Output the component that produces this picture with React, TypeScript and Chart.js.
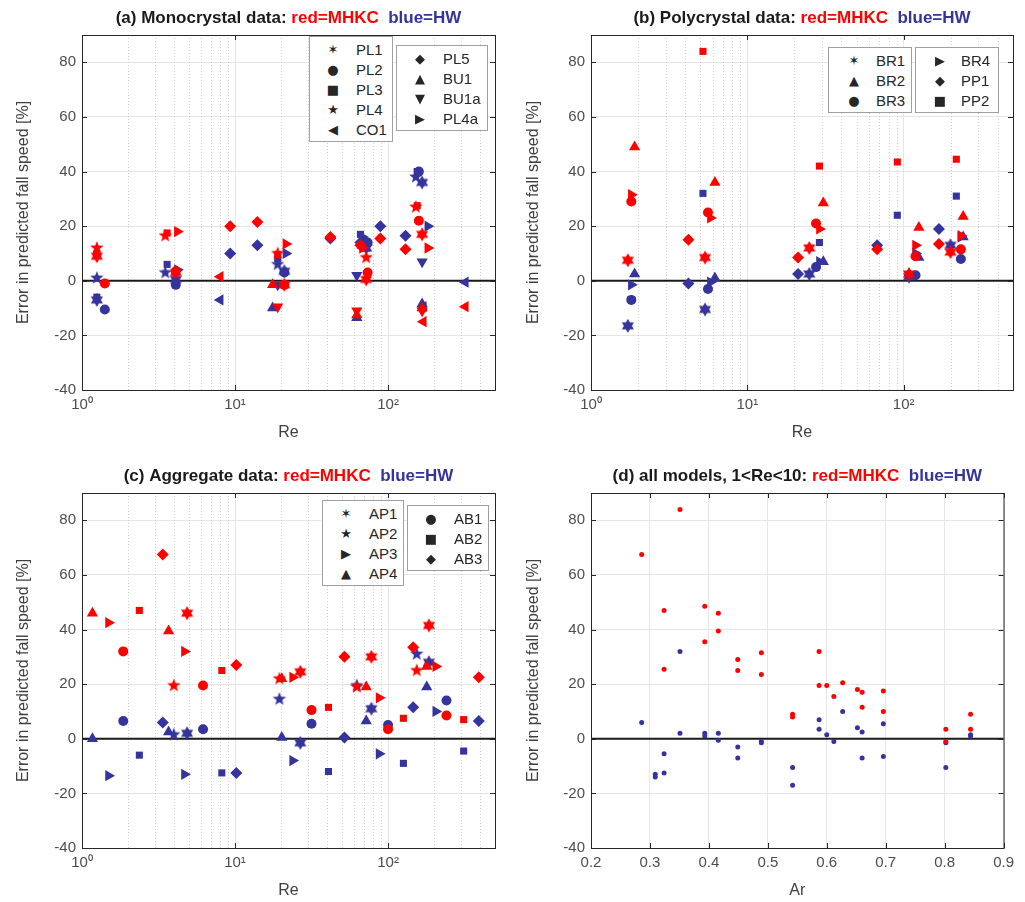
import { useEffect, useRef } from "react";
import { Chart, registerables } from "chart.js";

Chart.register(...registerables);

const RED = "#ff0000";
const BLUE = "#35339c";

// ---- (a) Monocrystal data ----
const aPL1Re = [1.25, 4.1, 21, 72, 167];
const aPL1Mhkc = [9, 3, -1.5, 0.5, 17];
const aPL1Hw = [-7, 0.5, 3.5, 12, 36];
const aPL2Re = [1.41, 4.1, 21, 73.5, 159];
const aPL2Mhkc = [-1, 3.5, -1.5, 3, 22];
const aPL2Hw = [-10.5, -1.5, 3, 14, 40];
const aPL3Re = [1.25, 3.6, 19, 66, 155];
const aPL3Mhkc = [10, 17.5, 9.5, 13, 27.5];
const aPL3Hw = [-6, 6, 8, 17, 40];
const aPL4Re = [1.25, 3.5, 19, 72, 152];
const aPL4Mhkc = [12, 16.5, 10, 8.5, 27];
const aPL4Hw = [1, 3, 6, 12.5, 38];
const aCO1Re = [8, 170, 320];
const aCO1Mhkc = [1.5, -15, -9.5];
const aCO1Hw = [-7, -9.5, -0.5];
const aPL5Re = [9.3, 14, 42, 66, 89, 130];
const aPL5Mhkc = [20, 21.5, 16, 13, 15.5, 11.5];
const aPL5Hw = [10, 13, 15.5, 14, 20, 16.5];
const aBU1Re = [17.6, 62.5, 167];
const aBU1Mhkc = [-1.5, -12.5, -10];
const aBU1Hw = [-10, -13.5, -8.5];
const aBU1aRe = [19, 62.5, 167];
const aBU1aMhkc = [-9.5, -11, -11];
const aBU1aHw = [-1.5, 2, 7];
const aPL4aRe = [4.2, 21.5, 68, 182];
const aPL4aMhkc = [18, 13.5, 12, 12];
const aPL4aHw = [4, 10, 16, 20];

// ---- (b) Polycrystal data ----
const bBR1Re = [1.72, 5.36, 24.9, 108, 199];
const bBR1Mhkc = [7.5, 8.5, 12, 2.5, 10.5];
const bBR1Hw = [-16.5, -10.5, 2.5, 1.5, 13];
const bBR2Re = [1.9, 6.2, 30.6, 125, 240];
const bBR2Mhkc = [49, 36, 28.5, 19.5, 23.5];
const bBR2Hw = [2.5, 1, 7, 8.5, 16];
const bBR3Re = [1.81, 5.6, 27.5, 119, 232];
const bBR3Mhkc = [29, 25, 21, 9, 11.5];
const bBR3Hw = [-7, -3, 5, 2, 8];
const bBR4Re = [1.81, 5.8, 28.9, 119, 232];
const bBR4Mhkc = [31.5, 23, 19, 13, 16.5];
const bBR4Hw = [-1.5, -0.5, 7, 10, 16];
const bPP1Re = [4.2, 21.1, 67.6, 168];
const bPP1Mhkc = [15, 8.5, 11.5, 13.5];
const bPP1Hw = [-1, 2.5, 13, 19];
const bPP2Re = [5.2, 28.9, 91, 217];
const bPP2Mhkc = [84, 42, 43.5, 44.5];
const bPP2Hw = [32, 14, 24, 31];

// ---- (c) Aggregate data ----
const cAP1Re = [4.86, 26.7, 77.8, 185];
const cAP1Mhkc = [46, 24.5, 30, 41.5];
const cAP1Hw = [2, -1.5, 11, 28];
const cAP2Re = [3.98, 19.5, 62.5, 154];
const cAP2Mhkc = [19.5, 22, 19, 25];
const cAP2Hw = [1.5, 14.5, 19.5, 31];
const cAP3Re = [1.49, 4.67, 23.8, 87.4, 205];
const cAP3Mhkc = [42.5, 32, 22.5, 15, 26.5];
const cAP3Hw = [-13.5, -13, -8, -5.5, 10];
const cAP4Re = [1.17, 3.68, 20.2, 72, 179];
const cAP4Mhkc = [46, 39.5, 22, 19, 26.5];
const cAP4Hw = [0, 2.5, 0.5, 6.5, 19];
const cAB1Re = [1.86, 6.18, 31.6, 100, 241];
const cAB1Mhkc = [32, 19.5, 10.5, 3.5, 8.5];
const cAB1Hw = [6.5, 3.5, 5.5, 5, 14];
const cAB2Re = [2.37, 8.2, 40.8, 126, 312];
const cAB2Mhkc = [47, 25, 11.5, 7.5, 7];
const cAB2Hw = [-6, -12.5, -12, -9, -4.5];
const cAB3Re = [3.37, 10.2, 51.9, 146, 392];
const cAB3Mhkc = [67.5, 27, 30, 33.5, 22.5];
const cAB3Hw = [6, -12.5, 0.5, 11.5, 6.5];

// ---- (d) all models, 1<Re<10 ----
const dArMhkc = [0.286, 0.324, 0.324, 0.351, 0.393, 0.393, 0.416, 0.416, 0.449, 0.449, 0.489, 0.489, 0.542, 0.542, 0.587, 0.587, 0.6, 0.612, 0.627, 0.652, 0.66, 0.66, 0.696, 0.696, 0.802, 0.802, 0.844, 0.844];
const dMhkc = [67.5, 47, 25.5, 84, 48.5, 35.5, 46, 39.5, 29, 25, 31.5, 23.5, 9, 8, 32, 19.5, 19.5, 15.5, 20.5, 18, 17, 11.5, 17.5, 10, 3.5, -1, 9, 3.5];
const dArHw = [0.286, 0.309, 0.309, 0.324, 0.324, 0.351, 0.351, 0.393, 0.393, 0.416, 0.416, 0.449, 0.449, 0.489, 0.489, 0.542, 0.542, 0.587, 0.587, 0.6, 0.612, 0.627, 0.652, 0.66, 0.66, 0.696, 0.696, 0.802, 0.802, 0.844, 0.844];
const dHw = [6, -13, -14, -12.5, -5.5, 32, 2, 2, 1, 2, -0.5, -3, -7, -1, -1.5, -10.5, -17, 7, 3.5, 1.5, -1, 10, 4, 2.5, -7, 5.5, -6.5, -1.5, -10.5, 1, 1.5];

type Shape = "hex" | "pent" | "circle" | "square" | "diamond" | "up" | "down" | "left" | "right";

const GLYPH: Record<Shape, string> = {
  hex: "✶", pent: "★", circle: "●", square: "■", diamond: "◆",
  up: "▲", down: "▼", left: "◀", right: "▶",
};

function starImage(n: number, inner: number, r: number, color: string) {
  const c = document.createElement("canvas");
  c.width = c.height = r * 2 + 2;
  const g = c.getContext("2d")!;
  g.fillStyle = color;
  g.beginPath();
  for (let i = 0; i < n * 2; i++) {
    const rad = i % 2 === 0 ? r : r * inner;
    const a = -Math.PI / 2 + (i * Math.PI) / n;
    const px = r + 1 + rad * Math.cos(a);
    const py = r + 1 + rad * Math.sin(a);
    if (i === 0) g.moveTo(px, py);
    else g.lineTo(px, py);
  }
  g.closePath();
  g.fill();
  return c;
}

function series(xs: number[], ys: number[], shape: Shape, color: string, small = false) {
  let style: any = "circle";
  let rot = 0;
  let radius = 5;
  if (shape === "hex") { style = starImage(6, 0.577, 7, color); radius = 7; }
  else if (shape === "pent") { style = starImage(5, 0.42, 7, color); radius = 7; }
  else if (shape === "square") { style = "rect"; radius = 5; }
  else if (shape === "diamond") { style = "rectRot"; radius = 6; }
  else if (shape === "up") { style = "triangle"; radius = 6.5; }
  else if (shape === "down") { style = "triangle"; rot = 180; radius = 6.5; }
  else if (shape === "right") { style = "triangle"; rot = 90; radius = 6.5; }
  else if (shape === "left") { style = "triangle"; rot = -90; radius = 6.5; }
  if (small) radius = 2.5;
  return {
    data: xs.map((x, i) => ({ x, y: ys[i] })),
    pointStyle: style,
    rotation: rot,
    pointRadius: radius,
    backgroundColor: color,
    borderColor: color,
    borderWidth: 0,
    showLine: false,
  };
}

type Cat = { name: string; shape: Shape; re: number[]; mhkc: number[]; hw: number[] };

const catsA: Cat[] = [
  { name: "PL1", shape: "hex", re: aPL1Re, mhkc: aPL1Mhkc, hw: aPL1Hw },
  { name: "PL2", shape: "circle", re: aPL2Re, mhkc: aPL2Mhkc, hw: aPL2Hw },
  { name: "PL3", shape: "square", re: aPL3Re, mhkc: aPL3Mhkc, hw: aPL3Hw },
  { name: "PL4", shape: "pent", re: aPL4Re, mhkc: aPL4Mhkc, hw: aPL4Hw },
  { name: "CO1", shape: "left", re: aCO1Re, mhkc: aCO1Mhkc, hw: aCO1Hw },
  { name: "PL5", shape: "diamond", re: aPL5Re, mhkc: aPL5Mhkc, hw: aPL5Hw },
  { name: "BU1", shape: "up", re: aBU1Re, mhkc: aBU1Mhkc, hw: aBU1Hw },
  { name: "BU1a", shape: "down", re: aBU1aRe, mhkc: aBU1aMhkc, hw: aBU1aHw },
  { name: "PL4a", shape: "right", re: aPL4aRe, mhkc: aPL4aMhkc, hw: aPL4aHw },
];
const catsB: Cat[] = [
  { name: "BR1", shape: "hex", re: bBR1Re, mhkc: bBR1Mhkc, hw: bBR1Hw },
  { name: "BR2", shape: "up", re: bBR2Re, mhkc: bBR2Mhkc, hw: bBR2Hw },
  { name: "BR3", shape: "circle", re: bBR3Re, mhkc: bBR3Mhkc, hw: bBR3Hw },
  { name: "BR4", shape: "right", re: bBR4Re, mhkc: bBR4Mhkc, hw: bBR4Hw },
  { name: "PP1", shape: "diamond", re: bPP1Re, mhkc: bPP1Mhkc, hw: bPP1Hw },
  { name: "PP2", shape: "square", re: bPP2Re, mhkc: bPP2Mhkc, hw: bPP2Hw },
];
const catsC: Cat[] = [
  { name: "AP1", shape: "hex", re: cAP1Re, mhkc: cAP1Mhkc, hw: cAP1Hw },
  { name: "AP2", shape: "pent", re: cAP2Re, mhkc: cAP2Mhkc, hw: cAP2Hw },
  { name: "AP3", shape: "right", re: cAP3Re, mhkc: cAP3Mhkc, hw: cAP3Hw },
  { name: "AP4", shape: "up", re: cAP4Re, mhkc: cAP4Mhkc, hw: cAP4Hw },
  { name: "AB1", shape: "circle", re: cAB1Re, mhkc: cAB1Mhkc, hw: cAB1Hw },
  { name: "AB2", shape: "square", re: cAB2Re, mhkc: cAB2Mhkc, hw: cAB2Hw },
  { name: "AB3", shape: "diamond", re: cAB3Re, mhkc: cAB3Mhkc, hw: cAB3Hw },
];

const SUP: Record<string, string> = { "0": "⁰", "1": "¹", "2": "²", "3": "³" };
const FONT = "'Liberation Sans', Arial, sans-serif";

function framePlugin(title: string, log: boolean) {
  return {
    id: "frame",
    beforeDatasetsDraw(chart: any) {
      const { ctx, chartArea: a, scales } = chart;
      ctx.save();
      if (log) {
        ctx.strokeStyle = "#d0d0d0";
        ctx.lineWidth = 1;
        ctx.setLineDash([1, 2]);
        for (const dec of [1, 10, 100]) {
          for (let m = 2; m <= 9; m++) {
            const v = dec * m;
            if (v > scales.x.max) break;
            const px = Math.round(scales.x.getPixelForValue(v)) + 0.5;
            ctx.beginPath();
            ctx.moveTo(px, a.top);
            ctx.lineTo(px, a.bottom);
            ctx.stroke();
          }
        }
        ctx.setLineDash([]);
      }
      const y0 = scales.y.getPixelForValue(0);
      ctx.strokeStyle = "#1a1a1a";
      ctx.lineWidth = 2;
      ctx.beginPath();
      ctx.moveTo(a.left, y0);
      ctx.lineTo(a.right, y0);
      ctx.stroke();
      ctx.restore();
    },
    afterDraw(chart: any) {
      const { ctx, chartArea: a, scales } = chart;
      ctx.save();
      ctx.strokeStyle = "#262626";
      ctx.lineWidth = 1;
      ctx.strokeRect(a.left + 0.5, a.top + 0.5, a.right - a.left, a.bottom - a.top);
      for (let v = -40; v <= 80; v += 20) {
        const py = Math.round(scales.y.getPixelForValue(v)) + 0.5;
        ctx.beginPath();
        ctx.moveTo(a.left, py); ctx.lineTo(a.left + 5, py);
        ctx.moveTo(a.right, py); ctx.lineTo(a.right - 5, py);
        ctx.stroke();
      }
      const xs = log ? [1, 10, 100] : [0.2, 0.3, 0.4, 0.5, 0.6, 0.7, 0.8, 0.9];
      for (const v of xs) {
        const px = Math.round(scales.x.getPixelForValue(v)) + 0.5;
        ctx.beginPath();
        ctx.moveTo(px, a.bottom); ctx.lineTo(px, a.bottom - 5);
        ctx.moveTo(px, a.top); ctx.lineTo(px, a.top + 5);
        ctx.stroke();
      }
      // title
      const parts: [string, string][] = [
        [title, "#1a1a1a"],
        ["red=MHKC", RED],
        ["  blue=HW", BLUE],
      ];
      ctx.font = `bold 17px ${FONT}`;
      const w = parts.reduce((s, p) => s + ctx.measureText(p[0]).width, 0);
      let x = (a.left + a.right) / 2 - w / 2;
      ctx.textBaseline = "middle";
      for (const [t, c] of parts) {
        ctx.fillStyle = c;
        ctx.fillText(t, x, 18);
        x += ctx.measureText(t).width;
      }
      ctx.restore();
    },
  };
}

type PanelProps = {
  left: number; top: number; height: number;
  yWidth: number; padRight: number; xHeight: number; padBottom: number;
  title: string; log: boolean; datasets: any[];
};

function Panel(p: PanelProps) {
  const ref = useRef<HTMLCanvasElement>(null);
  useEffect(() => {
    if (!ref.current) return;
    const tickFont = { family: FONT, size: 15 };
    const titleFont = { family: FONT, size: 16 };
    const chart = new Chart(ref.current, {
      type: "scatter",
      data: { datasets: p.datasets },
      options: {
        animation: false,
        responsive: false,
        maintainAspectRatio: false,
        layout: { padding: { top: 35, right: p.padRight, left: 12, bottom: p.padBottom } },
        plugins: { legend: { display: false }, tooltip: { enabled: false } },
        scales: {
          x: p.log
            ? {
                type: "logarithmic", min: 1, max: 500,
                title: { display: true, text: "Re", color: "#404040", font: titleFont, padding: 0 },
                border: { display: false },
                grid: {
                  drawTicks: false,
                  color: (c: any) => (Math.abs(Math.log10(c.tick.value) % 1) < 1e-6 ? "#e6e6e6" : "transparent"),
                },
                ticks: {
                  autoSkip: false, maxRotation: 0, color: "#4d4d4d", font: tickFont, padding: 6,
                  callback: (v: any) => {
                    const l = Math.log10(Number(v));
                    return Math.abs(l - Math.round(l)) < 1e-6 ? "10" + SUP[String(Math.round(l))] : "";
                  },
                },
                afterFit: (s: any) => { s.height = p.xHeight; },
              }
            : {
                type: "linear", min: 0.2, max: 0.9,
                title: { display: true, text: "Ar", color: "#404040", font: titleFont, padding: 0 },
                border: { display: false },
                grid: { drawTicks: false, color: "#e6e6e6" },
                ticks: { stepSize: 0.1, color: "#4d4d4d", font: tickFont, padding: 6, callback: (v: any) => Number(v).toFixed(1) },
                afterFit: (s: any) => { s.height = p.xHeight; },
              },
          y: {
            min: -40, max: 90,
            title: { display: true, text: "Error in predicted fall speed [%]", color: "#404040", font: titleFont, padding: 2 },
            border: { display: false },
            grid: {
              drawTicks: false,
              color: (c: any) => (c.tick.value % 20 === 0 && c.tick.value !== 0 && c.tick.value !== -40 ? "#e6e6e6" : "transparent"),
            },
            ticks: {
              stepSize: 10, autoSkip: false, color: "#4d4d4d", font: tickFont, padding: 6,
              callback: (v: any) => (Number(v) % 20 === 0 ? String(v) : ""),
            },
            afterFit: (s: any) => { s.width = p.yWidth; },
          },
        },
      } as any,
      plugins: [framePlugin(p.title, p.log)],
    });
    return () => chart.destroy();
  }, []);
  return (
    <canvas
      ref={ref}
      width={510}
      height={p.height}
      style={{ position: "absolute", left: p.left, top: p.top, width: 510, height: p.height }}
    />
  );
}

function Legend({ items, left, top, width, rowGap = 20, markerX = 23, textX = 46 }: any) {
  return (
    <div
      style={{
        position: "absolute", left, top, width, height: items.length * rowGap + 6,
        border: "1.5px solid #a0a0a0", background: "#fff", boxSizing: "border-box",
        fontFamily: FONT, fontSize: 15, color: "#262626",
      }}
    >
      {items.map((c: Cat, i: number) => (
        <div key={c.name} style={{ position: "absolute", top: 3 + i * rowGap, height: rowGap, lineHeight: rowGap + "px", left: 0, right: 0 }}>
          <span style={{ position: "absolute", left: markerX - 7, width: 14, textAlign: "center", fontSize: 13, fontFamily: "DejaVu Sans" }}>
            {GLYPH[c.shape]}
          </span>
          <span style={{ position: "absolute", left: textX }}>{c.name}</span>
        </div>
      ))}
    </div>
  );
}

function catSets(cats: Cat[]) {
  return [
    ...cats.map((c) => series(c.re, c.mhkc, c.shape, RED)),
    ...cats.map((c) => series(c.re, c.hw, c.shape, BLUE)),
  ];
}

export default function App() {
  return (
    <div style={{ position: "absolute", left: 0, top: 0, width: 1025, height: 902, background: "#fff" }}>
      <Panel left={0} top={0} height={450} yWidth={70} padRight={15} xHeight={52} padBottom={8}
        title="(a) Monocrystal data: " log datasets={catSets(catsA)} />
      <Panel left={510} top={0} height={450} yWidth={69} padRight={7} xHeight={52} padBottom={8}
        title="(b) Polycrystal data: " log datasets={catSets(catsB)} />
      <Panel left={0} top={458} height={444} yWidth={70} padRight={15} xHeight={52} padBottom={2}
        title="(c) Aggregate data: " log datasets={catSets(catsC)} />
      <Panel left={510} top={458} height={444} yWidth={69} padRight={7} xHeight={52} padBottom={2}
        title="(d) all models, 1<Re<10: " log={false}
        datasets={[series(dArMhkc, dMhkc, "circle", RED, true), series(dArHw, dHw, "circle", BLUE, true)]} />
      <Legend items={catsA.slice(0, 5)} left={309} top={36} width={84} />
      <Legend items={catsA.slice(5)} left={396} top={45} width={92} />
      <Legend items={catsB.slice(0, 3)} left={828} top={47} width={84} markerX={25} textX={47} />
      <Legend items={catsB.slice(3)} left={915} top={47} width={84} markerX={24} textX={45} />
      <Legend items={catsC.slice(0, 4)} left={322} top={500} width={82} />
      <Legend items={catsC.slice(4)} left={407} top={505} width={82} />
    </div>
  );
}
